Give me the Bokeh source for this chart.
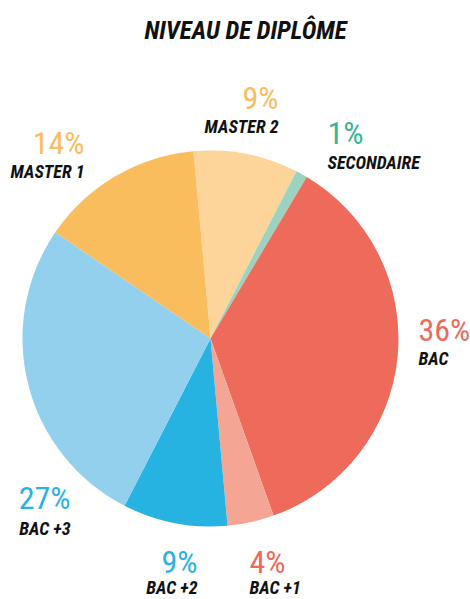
import math
from bokeh.plotting import figure
from bokeh.models import Range1d, ColumnDataSource
from bokeh.core.properties import value
from bokeh.embed import file_html
from bokeh.resources import INLINE

# ---- data (clockwise from top) ----
categories = ["MASTER 2", "SECONDAIRE", "BAC", "BAC +1", "BAC +2", "BAC +3", "MASTER 1"]
shares = [9, 1, 36, 4, 9, 27, 14]
slice_colors = ["#FDD59B", "#9BD3C0", "#EE6A5B", "#F4A594", "#27B3E2", "#93D0EE", "#F9BD5E"]
pct_colors = ["#F9BD5E", "#3AB391", "#EE6A5B", "#EE6A5B", "#27B3E2", "#27B3E2", "#F9BD5E"]
title_text = "NIVEAU DE DIPLÔME"

# ---- layout ----
W, H = 470, 599
def X(px):
    return px
def Y(py):
    return H - py

cx, cy, R = X(210), Y(338), 188
offset_deg = -5.2  # first slice begins slightly left of top

# label anchors (page px): x, pct baseline y, name baseline y, align
label_pos = [
    (278, 97, 126, "right"),
    (327, 132, 162, "left"),
    (418, 329, 358, "left"),
    (249, 561, 587, "left"),
    (197, 561, 587, "right"),
    (70, 497, 528, "right"),
    (84, 142, 171, "right"),
]

FONT = value("'Roboto Condensed', 'Liberation Sans Narrow', 'DejaVu Sans Condensed', sans-serif")

p = figure(width=W, height=H, output_backend="svg", toolbar_location=None,
           x_range=Range1d(0, W), y_range=Range1d(0, H),
           x_axis_type=None, y_axis_type=None,
           min_border=0, min_border_left=0, min_border_right=0,
           min_border_top=0, min_border_bottom=0)
p.outline_line_color = None
p.grid.visible = False
p.background_fill_color = "white"
p.border_fill_color = "white"

total = float(sum(shares))
starts, ends = [], []
acc = offset_deg
for s in shares:
    a0 = acc
    a1 = acc + s / total * 360.0
    starts.append(math.radians(90 - a0))
    ends.append(math.radians(90 - a1))
    acc = a1

src = ColumnDataSource(dict(start=starts, end=ends, color=slice_colors))
p.wedge(x=cx, y=cy, radius=R, start_angle="start", end_angle="end",
        direction="clock", fill_color="color", line_color=None, source=src)

# title
p.text(x=[X(245)], y=[Y(30)], text=[title_text], text_font=FONT,
       text_font_size="25px", text_font_style="bold italic",
       text_color="#111111", text_align="center", text_baseline="alphabetic")

for i, (lx, py1, py2, al) in enumerate(label_pos):
    p.text(x=[X(lx)], y=[Y(py1)], text=[f"{shares[i]}%"], text_font=FONT,
           text_font_size="32px", text_font_style="normal",
           text_color=pct_colors[i], text_align=al, text_baseline="alphabetic")
    p.text(x=[X(lx)], y=[Y(py2)], text=[categories[i]], text_font=FONT,
           text_font_size="18px", text_font_style="bold italic",
           text_color="#111111", text_align=al, text_baseline="alphabetic")

open("out.html", "w").write(file_html(p, INLINE))
